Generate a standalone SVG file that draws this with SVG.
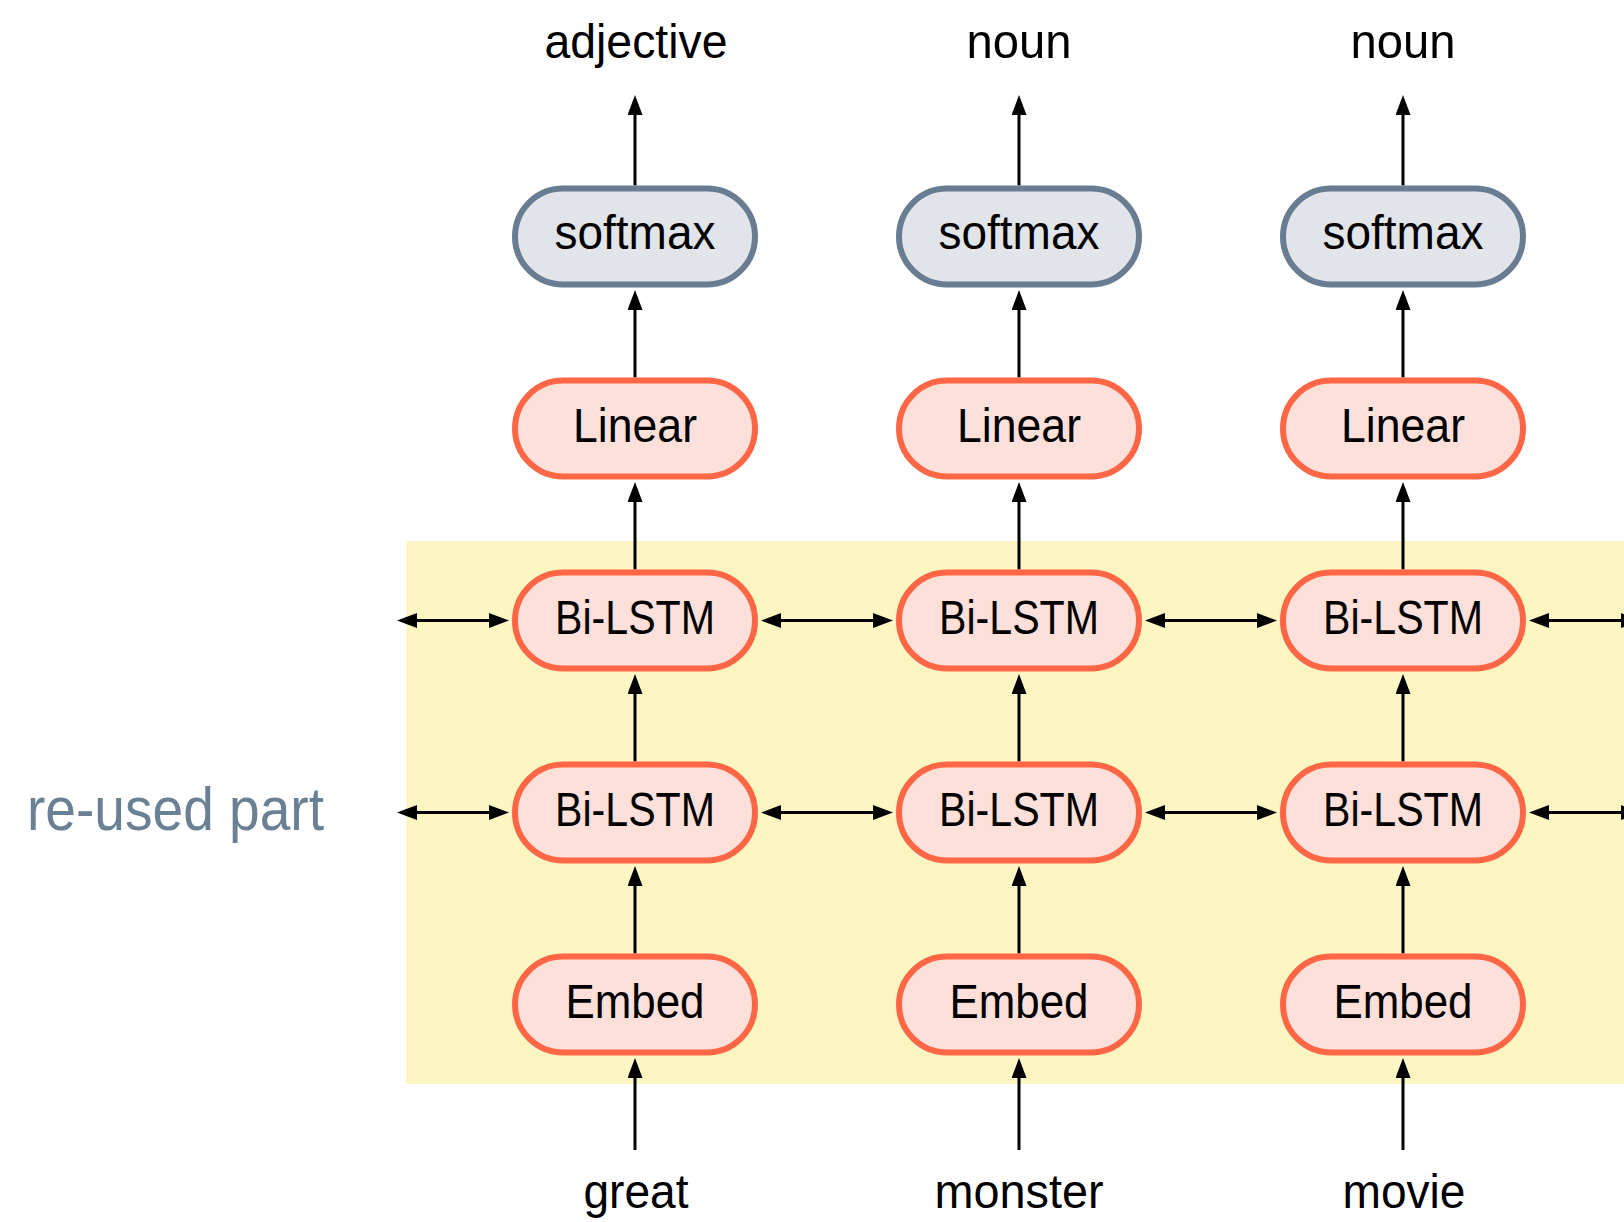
<svg xmlns="http://www.w3.org/2000/svg" width="1624" height="1222" viewBox="0 0 1624 1222">
<style>
.t{font-family:"Liberation Sans",Arial,sans-serif;fill:#000;text-anchor:middle}
.n{font-size:49px}
.l{font-size:49px}
.pink{fill:#FDE0D9;stroke:#FE6646;stroke-width:6}
.gray{fill:#E1E5EA;stroke:#687D91;stroke-width:6}
.c{stroke:#000;stroke-width:3;fill:none}
.v{marker-end:url(#ah)}
.h{marker-start:url(#ah);marker-end:url(#ah)}
</style>
<defs>
<marker id="ah" viewBox="0 0 20 15" refX="1" refY="7.5" markerWidth="20" markerHeight="15" markerUnits="userSpaceOnUse" orient="auto-start-reverse">
<path d="M0,0 L20,7.5 L0,15 z" fill="#000"/>
</marker>
</defs>
<rect id="reused-region" x="406" y="541" width="1218" height="543" fill="#FDF6C2"/>
<text id="reused-label" x="27" y="830" font-family="Liberation Sans, Arial, sans-serif" font-size="61" fill="#6A8094" textLength="297" lengthAdjust="spacingAndGlyphs">re-used part</text>

<g id="connectors">
<!-- column 1 -->
<line class="c v" x1="635" y1="185.5" x2="635" y2="114"/>
<line class="c v" x1="635" y1="377.5" x2="635" y2="309"/>
<line class="c v" x1="635" y1="569.5" x2="635" y2="501"/>
<line class="c v" x1="635" y1="761.5" x2="635" y2="693"/>
<line class="c v" x1="635" y1="953.5" x2="635" y2="885"/>
<line class="c v" x1="635" y1="1150" x2="635" y2="1077"/>
<!-- column 2 -->
<line class="c v" x1="1019" y1="185.5" x2="1019" y2="114"/>
<line class="c v" x1="1019" y1="377.5" x2="1019" y2="309"/>
<line class="c v" x1="1019" y1="569.5" x2="1019" y2="501"/>
<line class="c v" x1="1019" y1="761.5" x2="1019" y2="693"/>
<line class="c v" x1="1019" y1="953.5" x2="1019" y2="885"/>
<line class="c v" x1="1019" y1="1150" x2="1019" y2="1077"/>
<!-- column 3 -->
<line class="c v" x1="1403" y1="185.5" x2="1403" y2="114"/>
<line class="c v" x1="1403" y1="377.5" x2="1403" y2="309"/>
<line class="c v" x1="1403" y1="569.5" x2="1403" y2="501"/>
<line class="c v" x1="1403" y1="761.5" x2="1403" y2="693"/>
<line class="c v" x1="1403" y1="953.5" x2="1403" y2="885"/>
<line class="c v" x1="1403" y1="1150" x2="1403" y2="1077"/>
<!-- horizontal row 1 -->
<line class="c h" x1="416" y1="620.5" x2="490" y2="620.5"/>
<line class="c h" x1="780" y1="620.5" x2="874" y2="620.5"/>
<line class="c h" x1="1164" y1="620.5" x2="1258" y2="620.5"/>
<line class="c h" x1="1548" y1="620.5" x2="1622" y2="620.5"/>
<!-- horizontal row 2 -->
<line class="c h" x1="416" y1="812.5" x2="490" y2="812.5"/>
<line class="c h" x1="780" y1="812.5" x2="874" y2="812.5"/>
<line class="c h" x1="1164" y1="812.5" x2="1258" y2="812.5"/>
<line class="c h" x1="1548" y1="812.5" x2="1622" y2="812.5"/>
</g>

<g id="softmax-1"><rect class="gray" x="515" y="188.5" width="240" height="96" rx="48"/><text class="t n" x="635" y="249" textLength="161" lengthAdjust="spacingAndGlyphs">softmax</text></g>
<g id="softmax-2"><rect class="gray" x="899" y="188.5" width="240" height="96" rx="48"/><text class="t n" x="1019" y="249" textLength="161" lengthAdjust="spacingAndGlyphs">softmax</text></g>
<g id="softmax-3"><rect class="gray" x="1283" y="188.5" width="240" height="96" rx="48"/><text class="t n" x="1403" y="249" textLength="161" lengthAdjust="spacingAndGlyphs">softmax</text></g>

<g id="linear-1"><rect class="pink" x="515" y="380.5" width="240" height="96" rx="48"/><text class="t n" x="635" y="442" textLength="124" lengthAdjust="spacingAndGlyphs">Linear</text></g>
<g id="linear-2"><rect class="pink" x="899" y="380.5" width="240" height="96" rx="48"/><text class="t n" x="1019" y="442" textLength="124" lengthAdjust="spacingAndGlyphs">Linear</text></g>
<g id="linear-3"><rect class="pink" x="1283" y="380.5" width="240" height="96" rx="48"/><text class="t n" x="1403" y="442" textLength="124" lengthAdjust="spacingAndGlyphs">Linear</text></g>

<g id="bilstm1-1"><rect class="pink" x="515" y="572.5" width="240" height="96" rx="48"/><text class="t n" x="635" y="634" textLength="160" lengthAdjust="spacingAndGlyphs">Bi-LSTM</text></g>
<g id="bilstm1-2"><rect class="pink" x="899" y="572.5" width="240" height="96" rx="48"/><text class="t n" x="1019" y="634" textLength="160" lengthAdjust="spacingAndGlyphs">Bi-LSTM</text></g>
<g id="bilstm1-3"><rect class="pink" x="1283" y="572.5" width="240" height="96" rx="48"/><text class="t n" x="1403" y="634" textLength="160" lengthAdjust="spacingAndGlyphs">Bi-LSTM</text></g>

<g id="bilstm2-1"><rect class="pink" x="515" y="764.5" width="240" height="96" rx="48"/><text class="t n" x="635" y="826" textLength="160" lengthAdjust="spacingAndGlyphs">Bi-LSTM</text></g>
<g id="bilstm2-2"><rect class="pink" x="899" y="764.5" width="240" height="96" rx="48"/><text class="t n" x="1019" y="826" textLength="160" lengthAdjust="spacingAndGlyphs">Bi-LSTM</text></g>
<g id="bilstm2-3"><rect class="pink" x="1283" y="764.5" width="240" height="96" rx="48"/><text class="t n" x="1403" y="826" textLength="160" lengthAdjust="spacingAndGlyphs">Bi-LSTM</text></g>

<g id="embed-1"><rect class="pink" x="515" y="956.5" width="240" height="96" rx="48"/><text class="t n" x="635" y="1018" textLength="139" lengthAdjust="spacingAndGlyphs">Embed</text></g>
<g id="embed-2"><rect class="pink" x="899" y="956.5" width="240" height="96" rx="48"/><text class="t n" x="1019" y="1018" textLength="139" lengthAdjust="spacingAndGlyphs">Embed</text></g>
<g id="embed-3"><rect class="pink" x="1283" y="956.5" width="240" height="96" rx="48"/><text class="t n" x="1403" y="1018" textLength="139" lengthAdjust="spacingAndGlyphs">Embed</text></g>

<g id="out-1"><text class="t l" x="636" y="58" textLength="183" lengthAdjust="spacingAndGlyphs">adjective</text></g>
<g id="out-2"><text class="t l" x="1019" y="58" textLength="105" lengthAdjust="spacingAndGlyphs">noun</text></g>
<g id="out-3"><text class="t l" x="1403" y="58" textLength="105" lengthAdjust="spacingAndGlyphs">noun</text></g>

<g id="in-1"><text class="t l" x="636" y="1208" textLength="105" lengthAdjust="spacingAndGlyphs">great</text></g>
<g id="in-2"><text class="t l" x="1019" y="1208" textLength="169" lengthAdjust="spacingAndGlyphs">monster</text></g>
<g id="in-3"><text class="t l" x="1404" y="1208" textLength="123" lengthAdjust="spacingAndGlyphs">movie</text></g>
</svg>
